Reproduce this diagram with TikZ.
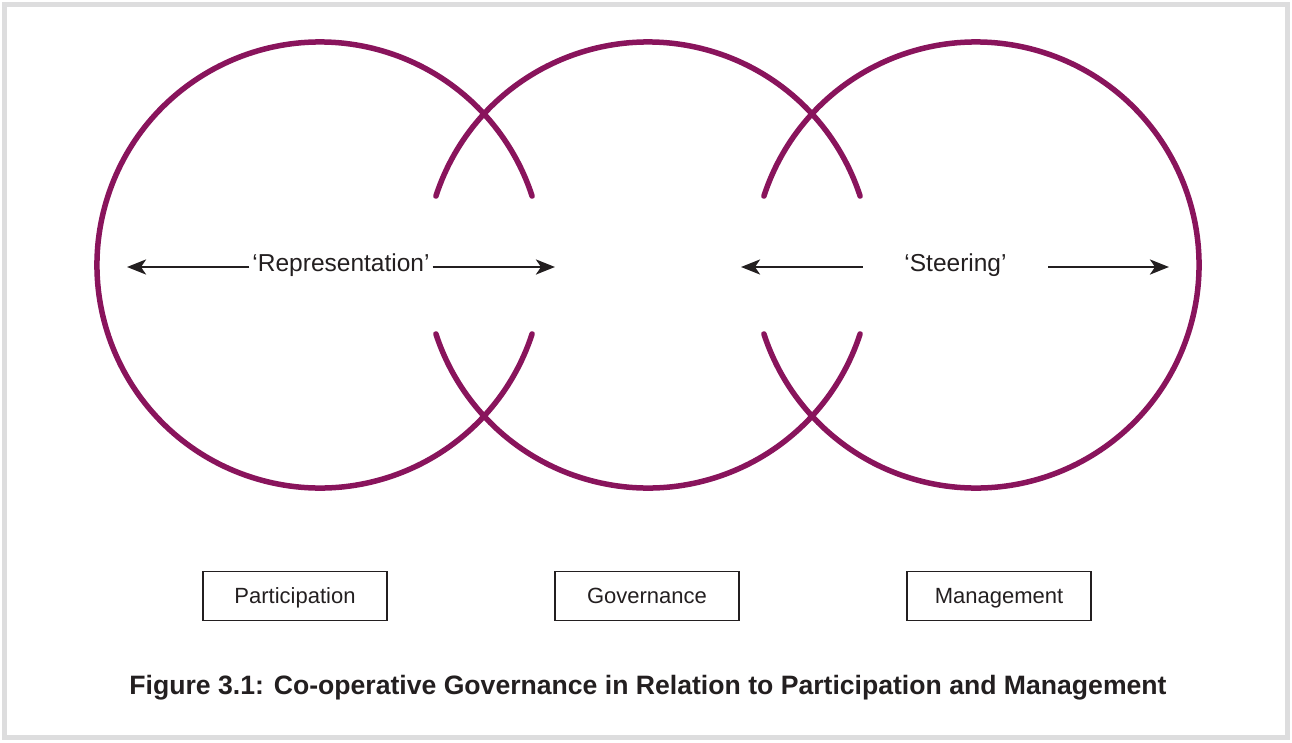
\documentclass[tikz,border=0pt]{standalone}
\usepackage{fontspec}
\setmainfont{Liberation Sans}
\usetikzlibrary{positioning,arrows.meta}
\definecolor{ringpurple}{RGB}{137,20,92}
\definecolor{inkgrey}{RGB}{35,31,32}
\definecolor{framegrey}{RGB}{221,221,222}
\tikzset{
  frame/.style    = {draw=framegrey, line width=5pt},
  ring/.style     = {draw=ringpurple, line width=5.5pt, line cap=round},
  flow/.style     = {draw=inkgrey, line width=2.8pt,
                     -{Stealth[length=19pt,width=15pt,inset=5pt]}},
  flowtext/.style = {inner xsep=3pt, text=inkgrey,
                     font=\fontsize{24.5}{28}\selectfont},
  sphere/.style   = {shape=rectangle, draw=inkgrey, line width=1.6pt,
                     minimum width=184pt, minimum height=49pt, text=inkgrey,
                     text height=17.5pt, text depth=3.5pt, outer sep=0pt,
                     font=\fontsize{22}{26}\selectfont},
  caption/.style  = {text=inkgrey, font=\fontsize{26.6}{30}\selectfont\bfseries}
}
\begin{document}
\begin{tikzpicture}[x=1pt, y=-1pt]
  \useasboundingbox (0,0) rectangle (1292,742);
  \draw[frame] (4.5,4.5) rectangle (1287.5,737.5);

  % the three circles
  \coordinate (cpart) at (320,265);
  \coordinate (cgov)  at (648,265);
  \coordinate (cman)  at (976,265);
  \draw[ring] (cpart) ++(18:223) arc[start angle=18, end angle=342, radius=223];
  \draw[ring] (cgov) ++(18:223) arc[start angle=18, end angle=162, radius=223];
  \draw[ring] (cgov) ++(198:223) arc[start angle=198, end angle=342, radius=223];
  \draw[ring] (cman) ++(-162:223) arc[start angle=-162, end angle=162, radius=223];

  % arrows
  \node[flowtext] (rep) at (341,265) {‘Representation’};
  \node[flowtext, minimum width=185pt] (steer) at (955.5,265) {‘Steering’};
  \coordinate (repl)   at (127,267);
  \coordinate (repr)   at (555,267);
  \coordinate (steerl) at (741,267);
  \coordinate (steerr) at (1169,267);
  \draw[flow] (rep.west |- repl) -- (repl);
  \draw[flow] (rep.east |- repr) -- (repr);
  \draw[flow] (steer.west |- steerl) -- (steerl);
  \draw[flow] (steer.east |- steerr) -- (steerr);

  % boxes
  \node[sphere] (part) at (295,596) {Participation};
  \node[sphere, right=168pt of part] (gov) {Governance};
  \node[sphere, right=168pt of gov] (man) {Management};

  \node[caption] (cap) at (648,688)
    {Figure 3.1: Co-operative Governance in Relation to Participation and Management};
\end{tikzpicture}
\end{document}
